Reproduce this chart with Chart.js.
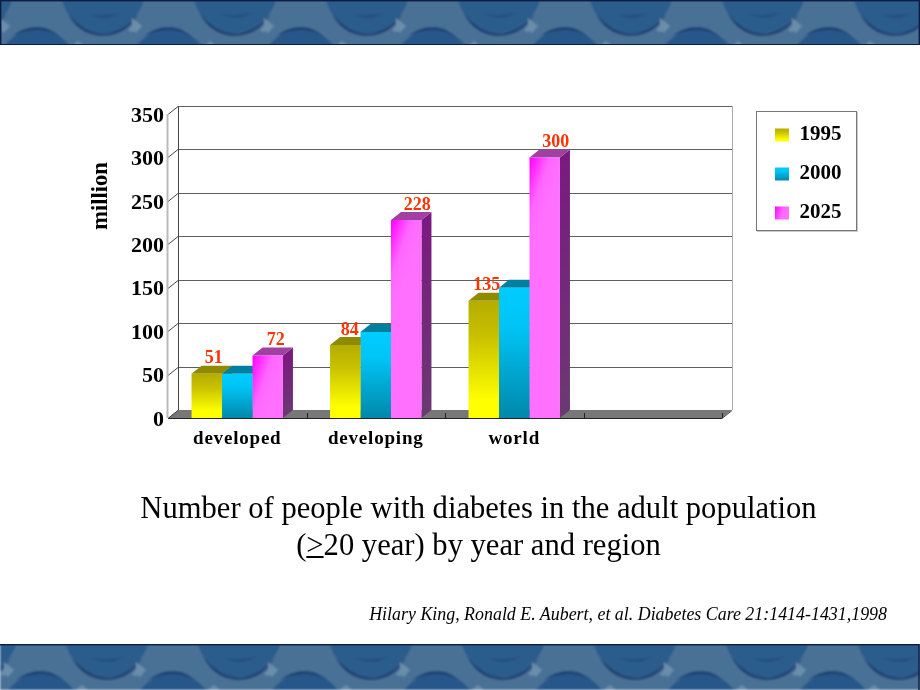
<!DOCTYPE html>
<html>
<head>
<meta charset="utf-8">
<script src="https://cdn.jsdelivr.net/npm/chart.js@4"></script>
<style>
html,body{margin:0;padding:0;background:#fff;overflow:hidden}
#wrap{position:relative;width:920px;height:690px;overflow:hidden}
canvas{position:absolute;left:0;top:0}
.band{position:absolute;left:0;width:920px;display:block}
.t{position:absolute;left:0;width:957px;text-align:center;font-family:"Liberation Serif",serif;color:#000;font-size:30.6px;line-height:37px;white-space:nowrap}
#cite{position:absolute;right:33px;top:604px;font:italic 17.9px "Liberation Serif",serif;color:#000;white-space:nowrap}
u{text-decoration:underline;text-decoration-thickness:1.5px}
</style>
</head>
<body>
<div id="wrap">
<svg class="band" style="top:0" height="46" viewBox="0 0 920 46"><defs>
<filter id="soft" x="-2%" y="-10%" width="104%" height="120%"><feGaussianBlur stdDeviation="1"/></filter>
<pattern id="p" width="132" height="46" patternUnits="userSpaceOnUse">
<rect width="132" height="46" fill="#4a7196"/>
<path d="M62 0 C66 18 84 33 103 34 C122 33 140 16 144 0Z" fill="#2b5b8c"/>
<path d="M-70 0 C-66 18 -48 33 -29 34 C-10 33 8 16 12 0Z" fill="#2b5b8c"/>
<path d="M68 14 C78 26 90 33 103 34 C116 33 128 26 138 14 C130 30 116 36 103 36 C90 36 76 30 68 14Z" fill="#1d3f70"/>
<path d="M-64 14 C-54 26 -42 33 -29 34 C-16 33 -4 26 6 14 C-2 30 -16 36 -29 36 C-42 36 -56 30 -64 14Z" fill="#1d3f70"/>
<path d="M88 14 Q103 18 120 13 Q103 21 88 14Z" fill="#1f4676"/>
<path d="M-44 14 Q-29 18 -12 13 Q-29 21 -44 14Z" fill="#1f4676"/>
<path d="M4 46 C14 34 26 28 37 28 C50 28 62 36 70 46Z" fill="#27578a"/>
<path d="M12 36 C20 30 28 27 37 27 C46 27 54 31 60 37 C52 32 46 30 37 30 C28 30 20 32 12 36Z" fill="#1d3f70"/>
<path d="M128 30 L140 17 L145 21 L136 35Z M0 18 L10 26 L4 33 L0 30Z M72 46 L78 41 L84 46Z" fill="#6b8eaa"/>
</pattern>
<pattern id="q" width="132" height="46" patternUnits="userSpaceOnUse" patternTransform="translate(4 0)">
<rect width="132" height="46" fill="url(#p)"/>
</pattern>
</defs>
<rect width="920" height="46" fill="url(#p)" filter="url(#soft)"/>
<rect x="0.75" y="0.75" width="918.5" height="44" fill="none" stroke="#0b1d42" stroke-width="1.5"/>
<rect y="45" width="920" height="1" fill="#fff"/>
</svg>
<svg class="band" style="top:644px" height="46" viewBox="0 0 920 46">
<rect width="920" height="46" fill="url(#q)" filter="url(#soft)"/>
<rect x="-2" y="0.75" width="921" height="46" fill="none" stroke="#0b1d42" stroke-width="1.5"/>
</svg>
<canvas id="c" width="920" height="690"></canvas>
<div class="t" style="top:490px">Number of people with diabetes in the adult population</div>
<div class="t" style="top:527px">(<u>&gt;</u>20 year) by year and region</div>
<div id="cite">Hilary King, Ronald E. Aubert, et al. Diabetes Care 21:1414-1431,1998</div>
</div>
<script>
const categories = ['developed', 'developing', 'world', ''];
const seriesNames = ['1995', '2000', '2025'];
const values1995 = [51, 84, 135, null];
const values2000 = [51, 99, 150, null];
const values2025 = [72, 228, 300, null];
const labels1995 = ['51', '84', '135', null];
const labels2000 = [null, null, null, null];
const labels2025 = ['72', '228', '300', null];
const yTickValues = [0, 50, 100, 150, 200, 250, 300, 350];
const yTitle = 'million';

const DX = 10, DY = -8;
const LABEL_NUDGE = [[7, 4.5, 3, 0], [0, 0, 0, 0], [8, 11, 11, 0]];
const serif = '"Liberation Serif", serif';
const ctx2d = document.getElementById('c').getContext('2d');

function frontGradient(di, x0, x1, yTop, yBot) {
  let g;
  if (di === 0) {
    g = ctx2d.createLinearGradient(0, yTop, 0, yBot);
    g.addColorStop(0, '#b5ad00'); g.addColorStop(0.3, '#c8c000'); g.addColorStop(0.85, '#ffff00'); g.addColorStop(1, '#ffff00');
  } else if (di === 1) {
    g = ctx2d.createLinearGradient(0, yTop, 0, yBot);
    g.addColorStop(0, '#00ccff'); g.addColorStop(0.3, '#00c4f5'); g.addColorStop(1, '#0088aa');
  } else {
    g = ctx2d.createLinearGradient(x0, yTop, x1, yTop + (x1 - x0) * 0.35);
    g.addColorStop(0, '#ff00ff'); g.addColorStop(0.6, '#ff66ff'); g.addColorStop(1, '#ff70ff');
  }
  return g;
}
const solid = ['#c8c000', '#00ccff', '#ff33ff'];
function barFill(c) {
  if (c.type !== 'data' || c.parsed == null || c.parsed.y == null) return solid[c.datasetIndex];
  const xs = c.chart.scales.x, ys = c.chart.scales.y;
  if (!xs || !ys || !c.chart.chartArea) return solid[c.datasetIndex];
  const bw = xs.width / categories.length * 0.66 / 3;
  const x0 = xs.getPixelForValue(c.dataIndex) + (c.datasetIndex - 1.5) * bw;
  const yT = ys.getPixelForValue(c.parsed.y), yB = ys.getPixelForValue(0);
  if (![bw, x0, yT, yB].every(Number.isFinite)) return solid[c.datasetIndex];
  return frontGradient(c.datasetIndex, x0, x0 + bw, yT, yB);
}

const depthColors = [
  { top: '#8f8a00', side: '#8a8500', sideEnd: '#8a8500' },
  { top: '#007f9f', side: '#006f8f', sideEnd: '#006f8f' },
  { top: '#a040a0', side: '#7a1a80', sideEnd: '#6a3a70' }
];

const scene = {
  id: 'scene',
  beforeLayout(chart) {
    const lg = chart.legend;
    if (lg && !lg._wrapped) {
      const f = lg.fit;
      lg.fit = function () { f.call(this); this.width = 100; };
      lg._wrapped = true;
    }
  },
  afterLayout(chart) {
    const lg = chart.legend;
    lg.left = 757; lg.right = 858; lg.top = 106.5; lg.bottom = 320; lg.width = 101; lg.height = 213.5;
    lg.adjustHitBoxes();
    const x = chart.scales.x, y = chart.scales.y;
    if (!x._wrappedLabels) {
      const d = x.drawLabels;
      x.drawLabels = function (a) { const c = this.ctx; c.save(); c.letterSpacing = '0.8px'; d.call(this, a); c.restore(); };
      x._wrappedLabels = true;
      const e = y.drawLabels;
      y.drawLabels = function (a) { const c = this.ctx; c.save(); c.translate(0, 2); e.call(this, a); c.restore(); };
    }
  },
  beforeDraw(chart) {
    const c = chart.ctx;
    c.save();
    c.fillStyle = '#c9c9c9'; c.fillRect(757, 112, 101, 120);
    c.fillStyle = '#fff'; c.fillRect(756, 111, 101, 120);
    c.strokeStyle = '#777'; c.lineWidth = 1; c.strokeRect(756.5, 111.5, 100, 119);
    c.restore();
  },
  beforeDatasetsDraw(chart) {
    const c = chart.ctx, xs = chart.scales.x, ys = chart.scales.y;
    const L = xs.left, R = xs.right, B = ys.getPixelForValue(0), T = ys.getPixelForValue(350);
    c.save();
    c.fillStyle = '#777777';
    c.beginPath(); c.moveTo(L, B); c.lineTo(R, B); c.lineTo(R + DX, B + DY); c.lineTo(L + DX, B + DY); c.closePath(); c.fill();
    c.lineWidth = 1;
    ys.ticks.forEach(t => {
      const y = Math.round(ys.getPixelForValue(t.value)) + 0.5;
      if (t.value !== 0) {
        c.strokeStyle = '#5f5f5f';
        c.beginPath(); c.moveTo(L + DX, y + DY); c.lineTo(R + DX, y + DY); c.stroke();
      }
      c.strokeStyle = '#444';
      c.beginPath(); c.moveTo(L, y); c.lineTo(L + DX, y + DY); c.stroke();
    });
    c.strokeStyle = '#444';
    c.beginPath(); c.moveTo(L + DX + 0.5, T + DY); c.lineTo(L + DX + 0.5, B + DY); c.stroke();
    c.strokeStyle = '#aaa';
    c.beginPath(); c.moveTo(R + DX + 0.5, T + DY); c.lineTo(R + DX + 0.5, B + DY); c.stroke();
    c.lineWidth = 2; c.strokeStyle = '#bbb';
    c.beginPath(); c.moveTo(L - 0.5, T); c.lineTo(L - 0.5, B); c.stroke();
    c.lineWidth = 1; c.strokeStyle = '#222';
    c.beginPath(); c.moveTo(L, B + 0.5); c.lineTo(R, B + 0.5); c.stroke();
    c.beginPath(); c.moveTo(R, B + 0.5); c.lineTo(R + DX, B + DY + 0.5); c.strokeStyle = '#444'; c.stroke();
    c.strokeStyle = '#222';
    for (let i = 1; i <= categories.length; i++) {
      const x = Math.round(L + i * xs.width / categories.length) + 0.5;
      c.beginPath(); c.moveTo(x, B); c.lineTo(x, B - 5); c.stroke();
    }
    categories.forEach((_, i) => {
      chart.data.datasets.forEach((ds, di) => {
        const el = chart.getDatasetMeta(di).data[i];
        if (ds.data[i] == null || !el) return;
        const r = el.x + el.width / 2, l = el.x - el.width / 2, top = el.y, base = el.base;
        const col = depthColors[di];
        const g = c.createLinearGradient(0, top, 0, base);
        g.addColorStop(0, col.side); g.addColorStop(1, col.sideEnd);
        c.fillStyle = g;
        c.beginPath(); c.moveTo(r, top); c.lineTo(r + DX, top + DY); c.lineTo(r + DX, base + DY); c.lineTo(r, base); c.closePath(); c.fill();
        c.fillStyle = col.top;
        c.beginPath(); c.moveTo(l, top); c.lineTo(l + DX, top + DY); c.lineTo(r + DX, top + DY); c.lineTo(r, top); c.closePath(); c.fill();
      });
    });
    c.restore();
  },
  afterDatasetsDraw(chart) {
    const c = chart.ctx;
    const labelSets = [labels1995, labels2000, labels2025];
    c.save();
    c.font = 'bold 18px ' + serif;
    c.fillStyle = '#ff3300';
    c.textAlign = 'center'; c.textBaseline = 'middle';
    labelSets.forEach((set, di) => {
      set.forEach((txt, i) => {
        if (txt == null) return;
        const el = chart.getDatasetMeta(di).data[i];
        c.fillText(txt, el.x + LABEL_NUDGE[di][i], el.y - 15);
      });
    });
    c.font = 'bold 22.5px ' + serif;
    c.fillStyle = '#000';
    c.translate(101, 196);
    c.rotate(-Math.PI / 2);
    c.fillText(yTitle, 0, 0);
    c.restore();
  }
};

new Chart(ctx2d, {
  type: 'bar',
  data: {
    labels: categories,
    datasets: [
      { label: seriesNames[0], data: values1995, backgroundColor: barFill },
      { label: seriesNames[1], data: values2000, backgroundColor: barFill },
      { label: seriesNames[2], data: values2025, backgroundColor: barFill }
    ]
  },
  options: {
    responsive: false,
    animation: false,
    events: [],
    layout: { padding: { left: 0, top: 114, right: 98, bottom: 0 } },
    datasets: { bar: { barPercentage: 1, categoryPercentage: 0.66, borderWidth: 0 } },
    scales: {
      x: {
        grid: { display: false },
        border: { display: false },
        ticks: { color: '#000', font: { family: serif, size: 19, weight: 'bold' }, padding: 2, maxRotation: 0, autoSkip: false },
        afterFit(s) { s.height = 272; }
      },
      y: {
        min: 0, max: 350,
        afterBuildTicks(s) { s.ticks = yTickValues.map(v => ({ value: v })); },
        grid: { display: false, drawTicks: false },
        border: { display: false },
        ticks: { color: '#000', font: { family: serif, size: 22, weight: 'bold' }, padding: 4 },
        afterFit(s) { s.width = 168; }
      }
    },
    plugins: {
      title: { display: false },
      tooltip: { enabled: false },
      legend: {
        position: 'right',
        align: 'start',
        labels: {
          boxWidth: 14, boxHeight: 13, padding: 18, color: '#000',
          font: { family: serif, size: 21, weight: 'bold' },
          generateLabels(chart) {
            return Chart.defaults.plugins.legend.labels.generateLabels(chart).map((it, i) => {
              const top = 128.5 + 39 * i;
              it.fillStyle = frontGradient(i, 775, 789, top, top + 13);
              it.strokeStyle = 'transparent';
              it.lineWidth = 0;
              return it;
            });
          }
        }
      }
    }
  },
  plugins: [scene]
});
</script>
</body>
</html>
